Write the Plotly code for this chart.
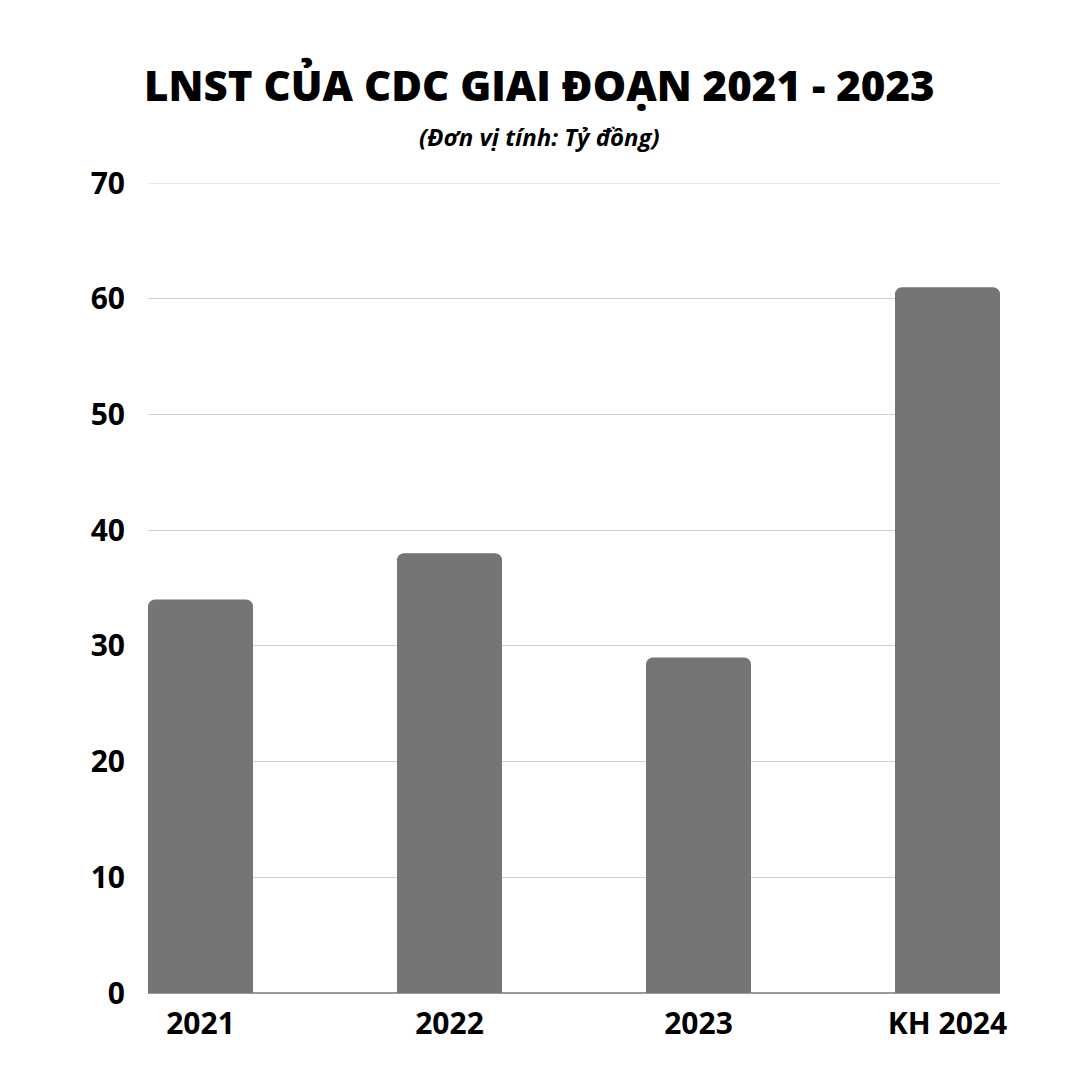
import plotly.graph_objects as go

# LNST (ty dong) by year
years = ['2021', '2022', '2023', 'KH 2024']
profit = [34, 38, 29, 61]
y_ticks = [0, 10, 20, 30, 40, 50, 60, 70]

bar_w = 0.4217

fig = go.Figure()

fig.add_trace(go.Bar(
    x=years,
    y=profit,
    width=bar_w,
    marker=dict(color='#757575', cornerradius=7, line_width=0),
    hoverinfo='x+y',
))

# page body has an 8px margin, so margins are trimmed to keep the plot in place
fig.update_layout(
    width=1080, height=1080,
    margin=dict(l=140, r=88, t=175, b=95),
    paper_bgcolor='white', plot_bgcolor='white',
    font=dict(family='Open Sans', color='black'),
    showlegend=False,
    xaxis=dict(
        type='category',
        range=[-bar_w / 2, len(years) - 1 + bar_w / 2],
        showgrid=False,
        showline=False,
        ticks='',
        tickfont=dict(size=30, family='Open Sans', weight='bold'),
        ticklabelstandoff=10,
    ),
    yaxis=dict(
        range=[0, 70],
        tickvals=y_ticks,
        showgrid=True,
        gridcolor='#d0d0d0',
        gridwidth=1,
        zeroline=True,
        zerolinecolor='#9a9a9a',
        zerolinewidth=1.5,
        showline=False,
        ticks='',
        tickfont=dict(size=30, family='Open Sans', weight='bold'),
        ticklabelstandoff=22,
    ),
    annotations=[
        dict(text='LNST CỦA CDC GIAI ĐOẠN 2021 - 2023',
             x=0.46, xref='paper', xanchor='center',
             y=1.1222, yref='paper', yanchor='middle',
             showarrow=False,
             font=dict(size=42, family='Open Sans', weight=800, color='black')),
        dict(text='(Đơn vị tính: Tỷ đồng)',
             x=0.46, xref='paper', xanchor='center',
             y=1.0568, yref='paper', yanchor='middle',
             showarrow=False,
             font=dict(size=24, family='Open Sans', weight='bold', style='italic', color='black')),
    ],
)

# top gridline sits on the plot edge, plotly skips it, so draw it
fig.add_shape(type='line', xref='paper', yref='y', x0=0, x1=1,
              y0=y_ticks[-1], y1=y_ticks[-1],
              line=dict(color='#d0d0d0', width=1), layer='below')

fig.write_html('out.html')
